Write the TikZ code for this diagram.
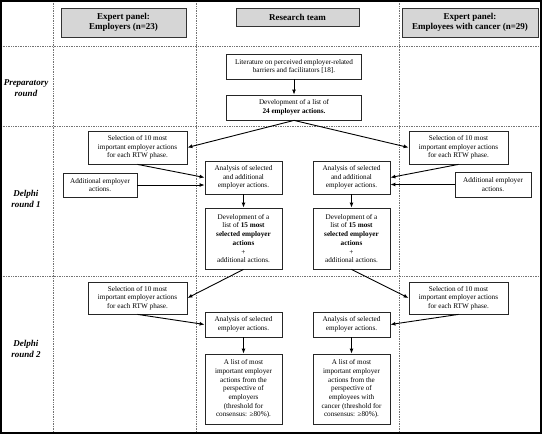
\documentclass[tikz,border=0pt]{standalone}
\usepackage{fontspec}
\setmainfont{Liberation Serif}
\usetikzlibrary{arrows.meta}
\begin{document}
\begin{tikzpicture}[x=1pt,y=-1pt,
  box/.style={draw=black!85,line width=0.8pt,fill=white,align=center,inner sep=0pt,
    font=\fontsize{7.2}{8.7}\selectfont},
  hbox/.style={draw=black!80,line width=1pt,fill=black!16,align=center,inner sep=0pt,
    font=\fontsize{9}{10.2}\selectfont\bfseries},
  rowlab/.style={align=center,font=\fontsize{9}{10.6}\selectfont\bfseries\itshape},
  grid/.style={draw=black!55,line width=0.7pt,dash pattern=on 0.8pt off 0.9pt},
  arr/.style={-{Latex[length=5pt,width=4pt]},line width=0.9pt,black}]
\useasboundingbox (0,0) rectangle (542,434);
% grid
\draw[grid] (1,46.5) -- (541,46.5);
\draw[grid] (1,126) -- (541,126);
\draw[grid] (1,276) -- (541,276);
\draw[grid] (53,1) -- (53,433);
\draw[grid] (196,1) -- (196,433);
\draw[grid] (399,1) -- (399,433);
\draw[line width=1.2pt] (1,1) rectangle (541,433);
% headers
\node[hbox,minimum width=125pt,minimum height=29pt] (hL) at (123.5,22.5) {Expert panel:\\Employers (n=23)};
\node[hbox,minimum width=123pt,minimum height=18pt] (hM) at (297.5,17) {Research team};
\node[hbox,minimum width=136pt,minimum height=29pt] (hR) at (470,22.5) {Expert panel:\\Employees with cancer (n=29)};
% row labels
\node[rowlab] (r0) at (26,88) {Preparatory\\round};
\node[rowlab] (r1) at (26,199) {Delphi\\round 1};
\node[rowlab] (r2) at (26,349) {Delphi\\round 2};
% preparatory
\node[box,minimum width=135pt,minimum height=25pt] (lit) at (294,66.5) {Literature on perceived employer-related\\barriers and facilitators [18].};
\node[box,minimum width=135pt,minimum height=25pt] (dev) at (294,107.5) {Development of a list of\\\textbf{24 employer actions.}};
% round 1
\node[box,minimum width=99pt,minimum height=33pt] (selL) at (137.5,147.5) {Selection of 10 most\\important employer actions\\for each RTW phase.};
\node[box,minimum width=74pt,minimum height=24pt] (addL) at (100,185) {Additional employer\\actions.};
\node[box,minimum width=77pt,minimum height=33pt] (anaL) at (243.5,177.5) {Analysis of selected\\and additional\\employer actions.};
\node[box,minimum width=77pt,minimum height=61pt] (devL) at (243.5,238.5) {Development of a\\list of \textbf{15 most}\\\textbf{selected employer}\\\textbf{actions}\\+\\additional actions.};
\node[box,minimum width=99pt,minimum height=33pt] (selR) at (458.5,147.5) {Selection of 10 most\\important employer actions\\for each RTW phase.};
\node[box,minimum width=76pt,minimum height=25pt] (addR) at (493,184.5) {Additional employer\\actions.};
\node[box,minimum width=77pt,minimum height=33pt] (anaR) at (351.5,177.5) {Analysis of selected\\and additional\\employer actions.};
\node[box,minimum width=77pt,minimum height=61pt] (devR) at (351.5,238.5) {Development of a\\list of \textbf{15 most}\\\textbf{selected employer}\\\textbf{actions}\\+\\additional actions.};
% round 2
\node[box,minimum width=99pt,minimum height=32pt] (sel2L) at (137.5,298) {Selection of 10 most\\important employer actions\\for each RTW phase.};
\node[box,minimum width=77pt,minimum height=25pt] (ana2L) at (243.5,324.5) {Analysis of selected\\employer actions.};
\node[box,minimum width=77pt,minimum height=70pt] (finL) at (243.5,389) {A list of most\\important employer\\actions from the\\perspective of\\employers\\(threshold for\\consensus: ≥80\%).};
\node[box,minimum width=99pt,minimum height=32pt] (sel2R) at (458.5,298) {Selection of 10 most\\important employer actions\\for each RTW phase.};
\node[box,minimum width=77pt,minimum height=25pt] (ana2R) at (351.5,324.5) {Analysis of selected\\employer actions.};
\node[box,minimum width=77pt,minimum height=70pt] (finR) at (351.5,389) {A list of most\\important employer\\actions from the\\perspective of\\employees with\\cancer (threshold for\\consensus: ≥80\%).};
% arrows
\draw[arr] (lit.south) -- (dev.north);
\draw[arr] (dev.south) -- (selL.east);
\draw[arr] (dev.south) -- (selR.west);
\draw[arr] (selL.south) -- (anaL.west);
\draw[arr] (addL.east) -- (addL.east -| anaL.west);
\draw[arr] (selR.south) -- (anaR.east);
\draw[arr] (addR.west) -- (addR.west -| anaR.east);
\draw[arr] (anaL.south) -- (devL.north);
\draw[arr] (anaR.south) -- (devR.north);
\draw[arr] (devL.south) -- (sel2L.east);
\draw[arr] (devR.south) -- (sel2R.west);
\draw[arr] (sel2L.south) -- (ana2L.west);
\draw[arr] (sel2R.south) -- (ana2R.east);
\draw[arr] (ana2L.south) -- (finL.north);
\draw[arr] (ana2R.south) -- (finR.north);
\end{tikzpicture}
\end{document}
